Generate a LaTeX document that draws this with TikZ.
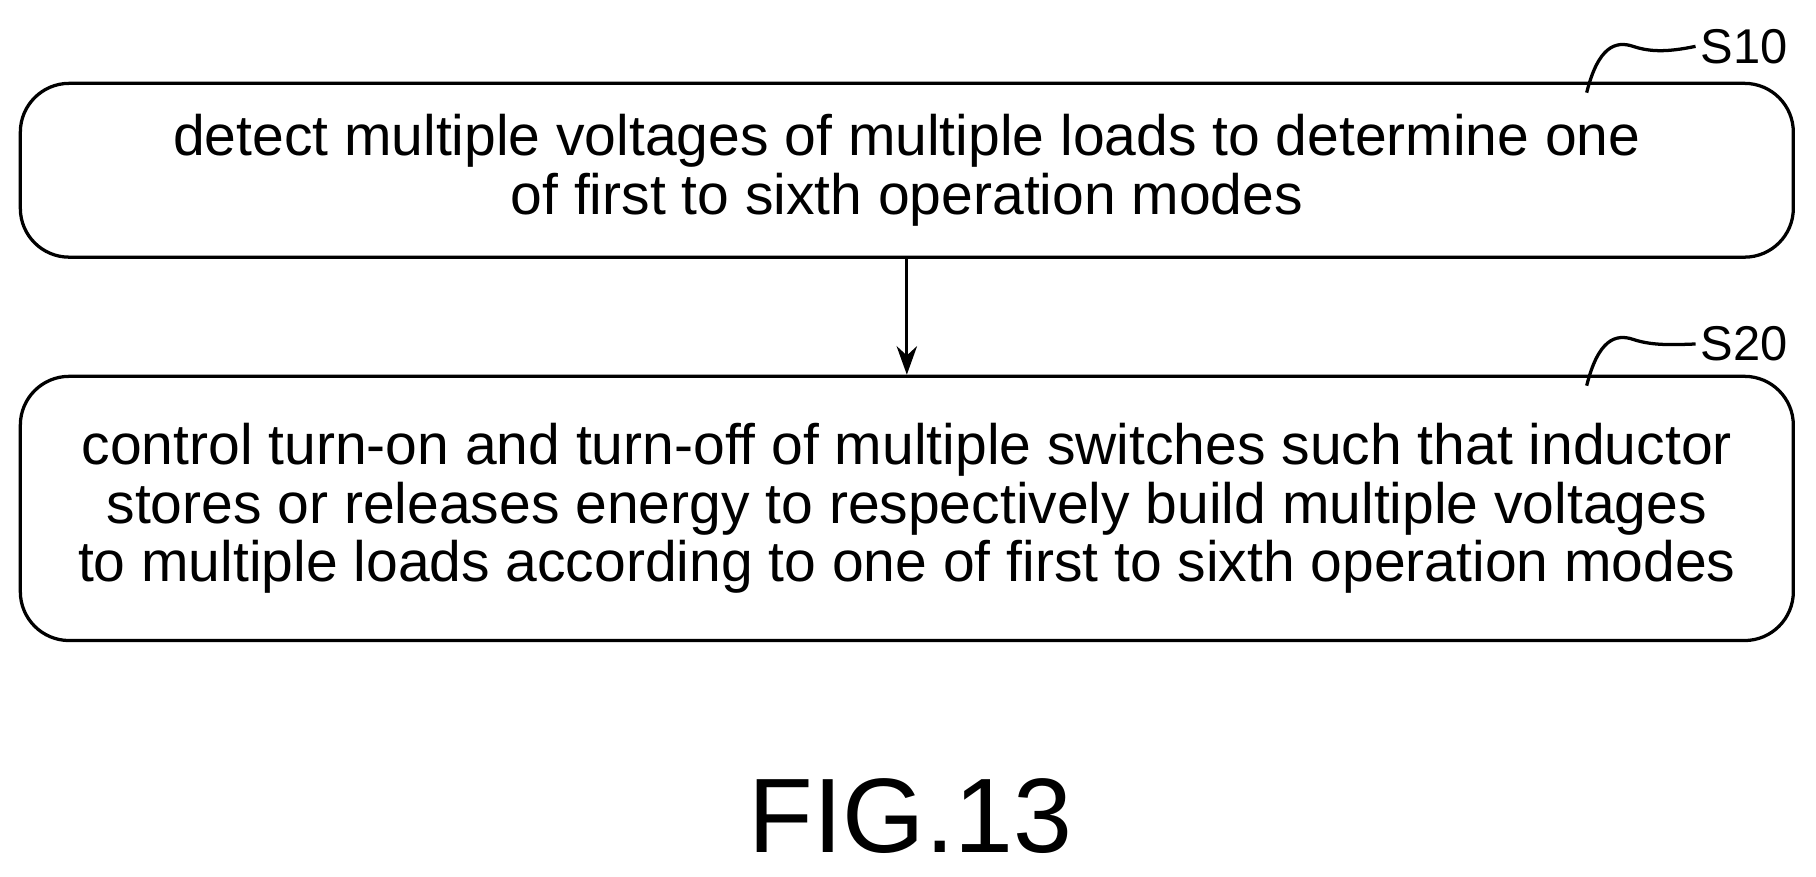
\documentclass[tikz,border=0pt]{standalone}
\usepackage{fontspec}
\setmainfont{Liberation Sans}
\usetikzlibrary{arrows.meta, positioning}
\tikzset{
  stepbox/.style={
    rectangle, draw, thick, rounded corners=12pt, minimum width=15.3cm,
    align=center, font=\fontsize{14}{14.3}\selectfont
  },
  steparrow/.style={
    thick, -{Stealth[length=7pt,width=5pt]}
  },
  tagline/.style={thick},
  tagtext/.style={font=\fontsize{12}{13}\selectfont, anchor=west, inner sep=1pt}
}
\begin{document}
\begin{tikzpicture}[x=0.01cm, y=-0.01cm]
  \useasboundingbox (0,0) rectangle (1568,757);
  \node[stepbox, minimum height=1.5cm] (detect) at (783,147)
    {detect multiple voltages of multiple loads to determine one\\of first to sixth operation modes};
  \node[stepbox, minimum height=2.28cm] (control) at (783,439)
    {control turn-on and turn-off of multiple switches such that inductor\\stores or releases energy to respectively build multiple voltages\\to multiple loads according to one of first to sixth operation modes};
  \draw[steparrow] (detect) -- (control);

  % step tags
  \node[tagtext] (s10) at (1464,40) {S10};
  \node[tagtext] (s20) at (1464,297) {S20};
  \draw[tagline] (1370,80) .. controls (1380,40) and (1395,35) .. (1410,40)
    .. controls (1425,45) and (1440,45) .. (s10.west);
  \draw[tagline] (1370,333) .. controls (1380,293) and (1395,288) .. (1410,293)
    .. controls (1425,298) and (1440,298) .. (s20.west);

  \node[font=\fontsize{26}{30}\selectfont] (fig) at (786,705) {FIG.13};
\end{tikzpicture}
\end{document}
